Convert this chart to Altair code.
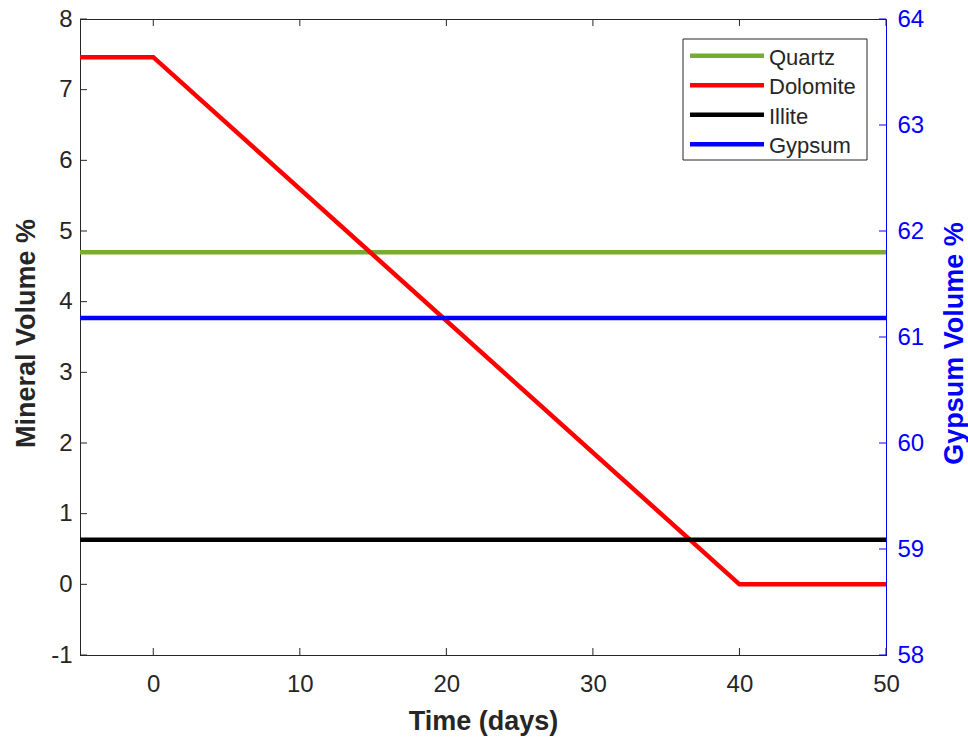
import altair as alt
import pandas as pd

# Series (time in days, volume in %)
minerals = ["Quartz", "Dolomite", "Illite", "Gypsum"]
colors = ["#77AC30", "#FF0000", "#000000", "#0000FF"]

quartz_t = [-5, 50]
quartz_v = [4.70, 4.70]
dolomite_t = [-5, 0, 40, 50]
dolomite_v = [7.46, 7.46, 0.0, 0.0]
illite_t = [-5, 50]
illite_v = [0.63, 0.63]
gypsum_t = [-5, 50]
gypsum_v = [61.18, 61.18]

x_ticks = [0, 10, 20, 30, 40, 50]
left_ticks = [-1, 0, 1, 2, 3, 4, 5, 6, 7, 8]
right_ticks = [58, 59, 60, 61, 62, 63, 64]

W, H = 806, 636
FONT = "Liberation Sans"
INK = "#262626"
BLUE = "#0000FF"
LABEL_EXPR = "'' + datum.value"   # plain hyphen for negatives

left_df = pd.concat([
    pd.DataFrame({"mineral": "Quartz", "t": quartz_t, "v": quartz_v}),
    pd.DataFrame({"mineral": "Dolomite", "t": dolomite_t, "v": dolomite_v}),
    pd.DataFrame({"mineral": "Illite", "t": illite_t, "v": illite_v}),
], ignore_index=True)
gyp_df = pd.DataFrame({"mineral": "Gypsum", "t": gypsum_t, "v": gypsum_v})

x_scale = alt.Scale(domain=[-5, 50], nice=False, zero=False)
yl_scale = alt.Scale(domain=[-1, 8], nice=False, zero=False)
yr_scale = alt.Scale(domain=[58, 64], nice=False, zero=False)
color = alt.Color("mineral:N", scale=alt.Scale(domain=minerals, range=colors), legend=None)

x_axis = alt.Axis(values=x_ticks, title="Time (days)", labelFontSize=24, labelPadding=17,
                  labelFlush=False, labelExpr=LABEL_EXPR,
                  titleFontSize=27, titleFontWeight="bold", titleColor=INK,
                  titleY=74, titleBaseline="alphabetic")
yl_axis = alt.Axis(values=left_ticks, title="Mineral Volume %", labelFontSize=24, labelPadding=8,
                   labelFlush=False, labelExpr=LABEL_EXPR,
                   titleFontSize=27, titleFontWeight="bold", titleColor=INK,
                   titleX=-46, titleY=H / 2 - 4, titleAngle=270, titleBaseline="alphabetic")
yr_axis = alt.Axis(values=right_ticks, orient="right", title="Gypsum Volume %", labelFontSize=24,
                   labelPadding=11, labelFlush=False, labelExpr=LABEL_EXPR,
                   labelColor=BLUE, domainColor=BLUE,
                   titleFontSize=27, titleFontWeight="bold", titleColor=BLUE,
                   titleX=76, titleY=H / 2 + 6, titleAngle=270, titleBaseline="alphabetic")

# Left-axis minerals
left_lines = alt.Chart(left_df).mark_line(strokeWidth=4.5).encode(
    x=alt.X("t:Q", scale=x_scale, axis=x_axis),
    y=alt.Y("v:Q", scale=yl_scale, axis=yl_axis),
    color=color,
    order=alt.Order("t:Q"),
)

# Inward tick marks on the box
xt_df = pd.DataFrame({"t": x_ticks})
x_ticks_bottom = alt.Chart(xt_df).mark_rule(color=INK, strokeWidth=1).encode(
    x=alt.X("t:Q", scale=x_scale, axis=x_axis), y=alt.value(H), y2=alt.value(H - 7))
x_ticks_top = alt.Chart(xt_df).mark_rule(color=INK, strokeWidth=1).encode(
    x=alt.X("t:Q", scale=x_scale, axis=x_axis), y=alt.value(0), y2=alt.value(7))
yl_tick_marks = alt.Chart(pd.DataFrame({"v": left_ticks})).mark_rule(color=INK, strokeWidth=1).encode(
    y=alt.Y("v:Q", scale=yl_scale, axis=yl_axis), x=alt.value(0), x2=alt.value(7))

left_layer = alt.layer(left_lines, yl_tick_marks, x_ticks_bottom, x_ticks_top)

# Right-axis mineral
gyp_line = alt.Chart(gyp_df).mark_line(strokeWidth=4.5).encode(
    x=alt.X("t:Q", scale=x_scale, axis=x_axis),
    y=alt.Y("v:Q", scale=yr_scale, axis=yr_axis),
    color=color,
)
yr_tick_marks = alt.Chart(pd.DataFrame({"v": right_ticks})).mark_rule(color=BLUE, strokeWidth=1).encode(
    y=alt.Y("v:Q", scale=yr_scale, axis=yr_axis), x=alt.value(W), x2=alt.value(W - 7))

right_layer = alt.layer(gyp_line, yr_tick_marks)

# Legend box in the upper right of the plot
leg_df = pd.DataFrame({"mineral": minerals})
row_scale = alt.Scale(type="point", domain=minerals, range=[36.7, 125.3], padding=0)
leg_box = alt.Chart(pd.DataFrame({"k": [0]})).mark_rect(
    fill="white", stroke=INK, strokeWidth=1).encode(
    x=alt.value(603), x2=alt.value(787), y=alt.value(20), y2=alt.value(141))
leg_lines = alt.Chart(leg_df).mark_rule(strokeWidth=4.5).encode(
    x=alt.value(610), x2=alt.value(684),
    y=alt.Y("mineral:N", scale=row_scale, axis=None),
    color=color,
)
leg_text = alt.Chart(leg_df).mark_text(
    align="left", baseline="middle", fontSize=22, font=FONT, color=INK, dy=2).encode(
    x=alt.value(689),
    y=alt.Y("mineral:N", scale=row_scale, axis=None),
    text="mineral:N",
)
legend_layer = alt.layer(leg_box, leg_lines, leg_text)

chart = alt.layer(left_layer, right_layer, legend_layer).resolve_scale(
    y="independent"
).properties(
    width=W, height=H,
    autosize=alt.AutoSizeParams(type="none"),
    padding={"left": 80, "top": 19, "right": 82, "bottom": 83},
    background="white",
).configure_view(
    stroke=INK, strokeWidth=1
).configure_axis(
    grid=False, ticks=False, tickSize=0, domainColor=INK, domainWidth=1,
    labelColor=INK, labelFont=FONT, titleFont=FONT,
)

chart.save("out.html", embed_options={"renderer": "svg", "actions": False})
